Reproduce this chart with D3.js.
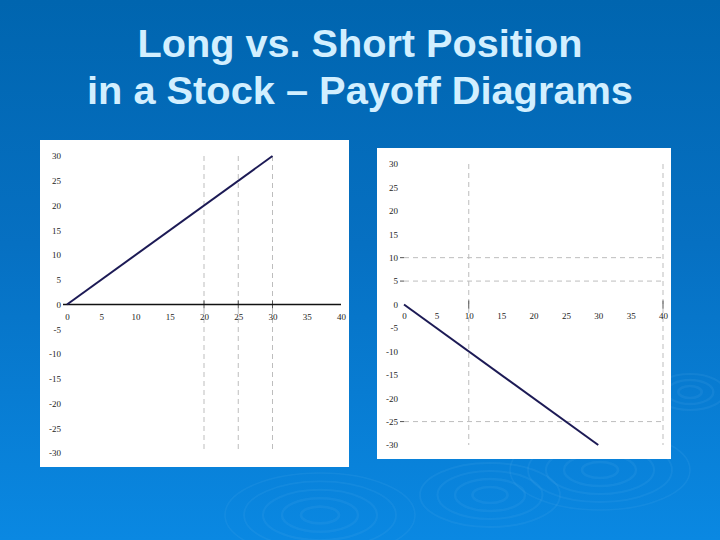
<!DOCTYPE html>
<html lang="en">
<head>
    <meta charset="UTF-8">
    <title>Long vs. Short Position - Payoff Diagrams</title>
    <style>
        html, body {
            margin: 0;
            padding: 0;
            overflow: hidden
        }
        svg {
            display: block
        }
        svg .title {
            font-family: "Liberation Sans", Arial, sans-serif;
            font-weight: bold;
            font-size: 38px;
            fill: #d2efff
        }
        svg .panel {
            fill: #FFF
        }
        svg .tick text {
            font-family: "Liberation Serif", "DejaVu Serif", serif;
            font-size: 9px;
            fill: #222
        }
        svg .grid {
            stroke: #bdbdbd;
            stroke-width: 1px;
            stroke-dasharray: 5, 4
        }
        svg .zero {
            stroke: #111;
            stroke-width: 1.5px
        }
        svg .mark {
            stroke: #555;
            stroke-width: 1px
        }
        svg .payoff {
            fill: none;
            stroke: #1c1a55;
            stroke-width: 2px
        }
        svg .ripple {
            fill: none;
            stroke: #5fb6f2;
            stroke-opacity: 0.12
        }
    </style>
</head>
<body>

<div id="slide"></div>

<script src="https://cdnjs.cloudflare.com/ajax/libs/d3/7.8.5/d3.min.js"></script>
<script>
  // stock price at expiration
  var prices = [0, 30];
  // payoff of each position
  var longPayoff = [0, 30];
  var shortPayoff = [0, -30];

  var xTicks = [0, 5, 10, 15, 20, 25, 30, 35, 40];
  var yTicks = [30, 25, 20, 15, 10, 5, 0, -5, -10, -15, -20, -25, -30];

  var longGridX = [20, 25, 30];
  var shortGridX = [10, 40];
  var shortGridY = [10, 5, -25];

  var titleLines = ['Long vs. Short Position', 'in a Stock \u2013 Payoff Diagrams'];

  var width = 720,
    height = 540;

  var svg = d3.select('#slide').append('svg')
    .attr('width', width)
    .attr('height', height);

  // background
  var defs = svg.append('defs');
  var grad = defs.append('linearGradient')
    .attr('id', 'bg')
    .attr('x1', 0).attr('y1', 0)
    .attr('x2', 0).attr('y2', 1);
  grad.append('stop').attr('offset', '0%').attr('stop-color', '#0065af');
  grad.append('stop').attr('offset', '45%').attr('stop-color', '#0670c2');
  grad.append('stop').attr('offset', '100%').attr('stop-color', '#0a88e2');

  svg.append('rect')
    .attr('width', width)
    .attr('height', height)
    .attr('fill', 'url(#bg)');

  // faint water ripples
  var ripples = [
    {cx: 320, cy: 515, rx: 95, ry: 42, rings: 5},
    {cx: 490, cy: 495, rx: 70, ry: 32, rings: 4},
    {cx: 600, cy: 470, rx: 90, ry: 40, rings: 5},
    {cx: 690, cy: 392, rx: 35, ry: 18, rings: 3}
  ];
  ripples.forEach(function(r) {
    for (var k = 1; k <= r.rings; k++) {
      svg.append('ellipse')
        .attr('class', 'ripple')
        .attr('cx', r.cx)
        .attr('cy', r.cy)
        .attr('rx', r.rx * k / r.rings)
        .attr('ry', r.ry * k / r.rings)
        .attr('stroke-width', 3 - k * 0.3);
    }
  });

  // title
  var titleLen = [445, 546];
  svg.selectAll('text.title')
    .data(titleLines)
    .enter()
    .append('text')
    .attr('class', 'title')
    .attr('x', width / 2)
    .attr('y', function(d, i) { return 57 + i * 47; })
    .attr('text-anchor', 'middle')
    .attr('textLength', function(d, i) { return titleLen[i]; })
    .attr('lengthAdjust', 'spacingAndGlyphs')
    .text(function(d) { return d; });

  var drawChart = function(opts) {
    var g = svg.append('g');

    g.append('rect')
      .attr('class', 'panel')
      .attr('x', opts.box[0])
      .attr('y', opts.box[1])
      .attr('width', opts.box[2])
      .attr('height', opts.box[3]);

    var x = d3.scaleLinear().domain([0, 40]).range(opts.xRange);
    var y = d3.scaleLinear().domain([-30, 30]).range(opts.yRange);

    // dashed guides
    g.selectAll('line.vgrid')
      .data(opts.gridX)
      .enter()
      .append('line')
      .attr('class', 'grid vgrid')
      .attr('x1', x).attr('x2', x)
      .attr('y1', y(30)).attr('y2', y(-30));

    g.selectAll('line.hgrid')
      .data(opts.gridY)
      .enter()
      .append('line')
      .attr('class', 'grid hgrid')
      .attr('x1', x(0)).attr('x2', x(40))
      .attr('y1', y).attr('y2', y);

    // short solid ticks at the left of horizontal guides
    g.selectAll('line.htick')
      .data(opts.gridY)
      .enter()
      .append('line')
      .attr('class', 'mark htick')
      .attr('x1', x(0) - 4).attr('x2', x(0))
      .attr('y1', y).attr('y2', y);

    // small ticks on the zero line
    g.selectAll('line.vtick')
      .data(opts.gridX)
      .enter()
      .append('line')
      .attr('class', 'mark vtick')
      .attr('x1', x).attr('x2', x)
      .attr('y1', y(0) - 4).attr('y2', y(0) + 4);

    if (opts.zeroLine) {
      g.append('line')
        .attr('class', 'zero')
        .attr('x1', x(0) - 4)
        .attr('x2', x(40))
        .attr('y1', y(0))
        .attr('y2', y(0));
    }

    var xAxis = g.append('g')
      .attr('transform', 'translate(0,' + y(0) + ')')
      .call(d3.axisBottom(x).tickValues(xTicks).tickFormat(String).tickSize(0).tickPadding(opts.xPad));
    xAxis.select('.domain').remove();

    var yAxis = g.append('g')
      .attr('transform', 'translate(' + (x(0) - opts.yGap) + ',0)')
      .call(d3.axisLeft(y).tickValues(yTicks).tickFormat(String).tickSize(0).tickPadding(0));
    yAxis.select('.domain').remove();

    var line = d3.line()
      .x(function(d) { return x(d[0]); })
      .y(function(d) { return y(d[1]); });

    g.append('path')
      .datum(d3.zip(prices, opts.payoff))
      .attr('class', 'payoff')
      .attr('d', line);
  };

  drawChart({
    box: [40, 140, 309, 327],
    xRange: [67, 341],
    yRange: [453, 156],
    gridX: longGridX,
    gridY: [],
    payoff: longPayoff,
    zeroLine: true,
    xPad: 9,
    yGap: 6
  });

  drawChart({
    box: [377, 148, 294, 311],
    xRange: [404, 663],
    yRange: [445, 164],
    gridX: shortGridX,
    gridY: shortGridY,
    payoff: shortPayoff,
    zeroLine: false,
    xPad: 8,
    yGap: 6
  });
</script>

</body>
</html>
